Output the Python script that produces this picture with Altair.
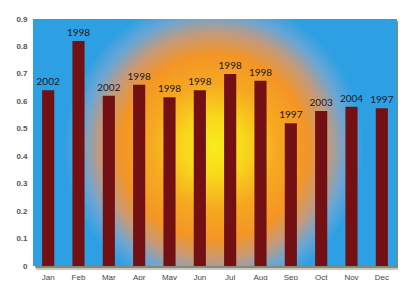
import altair as alt
import pandas as pd

months = ["Jan", "Feb", "Mar", "Apr", "May", "Jun", "Jul", "Aug", "Sep", "Oct", "Nov", "Dec"]
values = [0.64, 0.82, 0.62, 0.66, 0.615, 0.64, 0.70, 0.675, 0.52, 0.565, 0.58, 0.575]
years = ["2002", "1998", "2002", "1998", "1998", "1998", "1998", "1998", "1997", "2003", "2004", "1997"]
y_ticks = [0, 0.1, 0.2, 0.3, 0.4, 0.5, 0.6, 0.7, 0.8, 0.9]

df = pd.DataFrame({"month": months, "value": values, "year": years})
one = pd.DataFrame({"k": [0]})

W, H = 364, 247
BLUE = "#2ca0e3"

xs = alt.X("month:N", sort=months, title=None,
           scale=alt.Scale(paddingInner=0.6, paddingOuter=0.3),
           axis=alt.Axis(labelAngle=0, ticks=False, domain=False, labelFontSize=8,
                         labelColor="#444444", labelFont="Liberation Sans",
                         labelPadding=7))
ys = alt.Y("value:Q", title=None,
           scale=alt.Scale(domain=[0, 0.9], nice=False),
           axis=alt.Axis(values=y_ticks, ticks=False, domain=False, grid=False,
                         labelFontSize=8, labelColor="#555555", labelFont="Liberation Sans",
                         labelPadding=6, labelFontWeight="bold", format="~g"))

shadow1 = alt.Chart(one).mark_rect(fill="#4a4a2a", opacity=0.3).encode(
    x=alt.value(3), x2=alt.value(W + 4), y=alt.value(3), y2=alt.value(H + 4))
shadow2 = alt.Chart(one).mark_rect(fill="#3a3a1a", opacity=0.45).encode(
    x=alt.value(2), x2=alt.value(W + 2), y=alt.value(2), y2=alt.value(H + 2))

bg = alt.Chart(one).mark_rect(fill=BLUE).encode(
    x=alt.value(0), x2=alt.value(W), y=alt.value(0), y2=alt.value(H))

sun = alt.Chart(one).mark_circle(
    opacity=1, size=300 * 300, clip=True, strokeWidth=0,
    fill={
        "gradient": "radial", "x1": 0.5, "y1": 0.5, "r1": 0,
        "x2": 0.5, "y2": 0.5, "r2": 0.5,
        "stops": [
            {"offset": 0.0, "color": "#f8ec1a"},
            {"offset": 0.2, "color": "#f8d81c"},
            {"offset": 0.42, "color": "#f6a820"},
            {"offset": 0.62, "color": "#f39526"},
            {"offset": 0.76, "color": "#c49a7c"},
            {"offset": 0.88, "color": "#6aa6d4"},
            {"offset": 1.0, "color": BLUE},
        ],
    }).encode(x=alt.value(181), y=alt.value(128))

bars = alt.Chart(df).mark_bar(color="#721014").encode(x=xs, y=ys)
labels = alt.Chart(df).mark_text(baseline="bottom", dy=-3, fontSize=10, font="Lato",
                                 color="#1a1a2a").encode(x=xs, y=ys, text="year:N")

chart = alt.layer(shadow1, shadow2, bg, sun, bars, labels).properties(
    width=W, height=H,
    autosize=alt.AutoSizeParams(type="none"),
    padding={"left": 25, "top": 11, "right": 1, "bottom": 14},
    background="white",
).configure_view(strokeWidth=0, fill=None)

chart.save("out.html", embed_options={"renderer": "svg", "actions": False})
